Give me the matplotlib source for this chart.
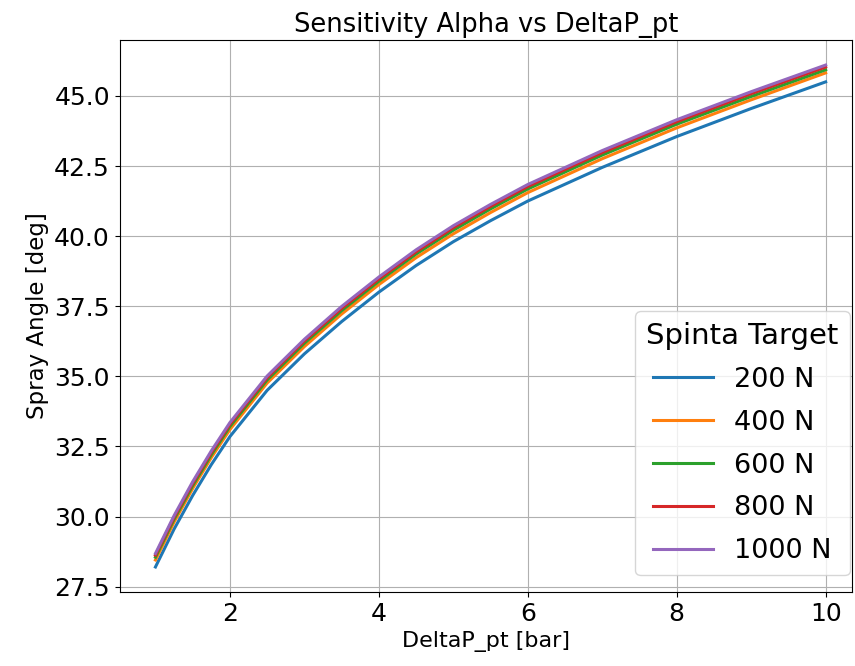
import numpy as np
import matplotlib
matplotlib.use('Agg')
import matplotlib.pyplot as plt

# DeltaP_pt values (bar)
delta_p = [1, 1.25, 1.5, 1.75, 2, 2.5, 3, 3.5, 4, 4.5, 5, 5.5, 6, 7, 8, 9, 10]

# Spray angle (deg) for each thrust target
alpha_200 = [28.2, 29.55, 30.75, 31.85, 32.85, 34.5, 35.8, 36.95, 38.0, 38.95, 39.8, 40.55, 41.25, 42.45, 43.55, 44.55, 45.5]
alpha_400 = [28.45, 29.8, 31.0, 32.1, 33.1, 34.76, 36.06, 37.22, 38.27, 39.23, 40.08, 40.84, 41.55, 42.76, 43.86, 44.86, 45.82]
alpha_600 = [28.55, 29.9, 31.1, 32.2, 33.21, 34.87, 36.18, 37.34, 38.39, 39.36, 40.21, 40.97, 41.68, 42.89, 43.99, 44.98, 45.93]
alpha_800 = [28.62, 29.97, 31.18, 32.28, 33.29, 34.95, 36.26, 37.42, 38.47, 39.44, 40.3, 41.06, 41.77, 42.98, 44.08, 45.08, 46.03]
alpha_1000 = [28.68, 30.03, 31.24, 32.34, 33.35, 35.01, 36.32, 37.49, 38.54, 39.51, 40.37, 41.13, 41.84, 43.05, 44.15, 45.15, 46.1]

labels = ['200 N', '400 N', '600 N', '800 N', '1000 N']
series = [alpha_200, alpha_400, alpha_600, alpha_800, alpha_1000]

fig = plt.figure(figsize=(8.55, 6.66), dpi=100)
ax = fig.add_axes([0.140, 0.111, 0.857, 0.829])

for lab, vals in zip(labels, series):
    ax.plot(delta_p, vals, linewidth=2.2, label=lab)

ax.set_xlim(0.52, 10.36)
ax.set_title('Sensitivity Alpha vs DeltaP_pt', fontsize=18.5)
ax.set_xlabel('DeltaP_pt [bar]', fontsize=16)
ax.set_ylabel('Spray Angle [deg]', fontsize=16.5)
ax.tick_params(labelsize=18)
ax.grid(True)
leg = ax.legend(title='Spinta Target', fontsize=19.5, title_fontsize=21,
                loc='lower right', bbox_to_anchor=(0.996, 0.031),
                borderaxespad=0, labelspacing=0.62, handlelength=2.2)

fig.savefig('out.png', dpi=100)
